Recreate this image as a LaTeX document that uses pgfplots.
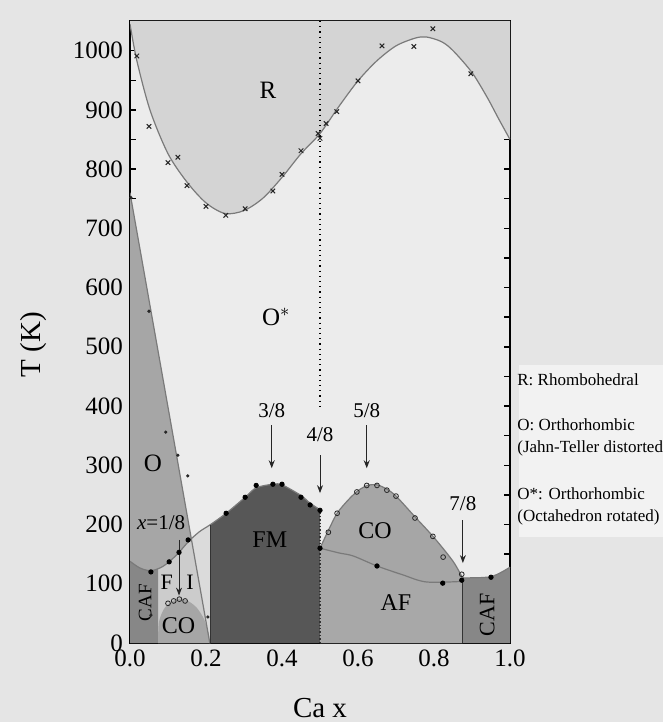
\documentclass[border=0pt]{standalone}
\usepackage{fontspec}
\setmainfont{Liberation Serif}
\usepackage{pgfplots}
\pgfplotsset{compat=1.18}
\usetikzlibrary{arrows.meta}

\definecolor{cPage}{gray}{0.90}
\definecolor{cOs}{gray}{0.925}
\definecolor{cR}{gray}{0.83}
\definecolor{cO}{gray}{0.65}
\definecolor{cFI}{gray}{0.80}
\definecolor{cI}{gray}{0.86}
\definecolor{cCAF}{gray}{0.53}
\definecolor{cCO}{gray}{0.65}
\definecolor{cFM}{gray}{0.34}
\definecolor{cAF}{gray}{0.66}
\definecolor{cLeg}{gray}{0.95}
\definecolor{cLine}{gray}{0.48}

\begin{document}
\begin{tikzpicture}
\path[use as bounding box, fill=cPage] (-65pt,-39.5pt) rectangle (266.5pt,321.5pt);
\fill[cLeg] (194.5pt,53pt) rectangle (270pt,139pt);

\begin{axis}[
  at={(0,0)}, anchor=south west,
  scale only axis, width=190pt, height=311pt,
  xmin=0, xmax=1, ymin=0, ymax=1050,
  xtick={0,0.2,...,1.0}, minor xtick={0.1,0.3,0.5,0.7,0.9},
  ytick={0,100,...,1000}, minor ytick={50,150,...,1050},
  tick align=inside, major tick length=3pt, minor tick length=3pt,
  tick style={black, line width=0.7pt},
  xticklabel style={/pgf/number format/.cd, fixed, fixed zerofill, precision=1},
  yticklabel style={/pgf/number format/1000 sep={}},
  /pgf/number format/assume math mode=true,
  tick label style={font=\fontsize{12.5}{13}\selectfont},
  xlabel={Ca x}, ylabel={T (K)},
  label style={font=\fontsize{14.5}{15}\selectfont},
  xlabel style={at={(axis description cs:0.5,-0.104)}, anchor=center},
  ylabel style={at={(axis description cs:-0.255,0.48)}, anchor=center},
  axis line style={line width=0.8pt},
  axis background/.style={fill=cOs},
]

% R region
\addplot[draw=none, fill=cR, smooth] coordinates {
(0,1045) (0.018,983) (0.053,899) (0.1,826) (0.15,778) (0.2,743) (0.25,725)
(0.3,730) (0.35,751) (0.4,786) (0.45,826) (0.5,860) (0.55,906) (0.6,949)
(0.65,983) (0.7,1008) (0.75,1021) (0.78,1023) (0.82,1015) (0.85,1000)
(0.9,963) (0.94,921) (0.97,885) (1.0,850)
} -- (axis cs:1,1050) -- (axis cs:0,1050) -- cycle;

% O region (wedge)
\addplot[draw=none, fill=cO, smooth] coordinates {
(0,138) (0.025,127) (0.053,122) (0.08,127) (0.103,137) (0.129,153) (0.161,177)
} -- (axis cs:0,760) -- cycle;

% F I region
\addplot[draw=none, fill=cFI, smooth] coordinates {
(0.074,125) (0.08,127) (0.103,137) (0.129,153) (0.155,172) (0.183,188) (0.212,200)
} -- (axis cs:0.212,0) -- (axis cs:0.074,0) -- cycle;

% lighter part right of the O line
\addplot[draw=none, fill=cI, smooth] coordinates {
(0.161,177) (0.183,188) (0.212,200)
} -- (axis cs:0.212,0) -- (axis cs:0.21,0) -- cycle;

% CAF (left)
\addplot[draw=none, fill=cCAF, smooth] coordinates {
(0,138) (0.025,127) (0.053,122) (0.074,125)
} -- (axis cs:0.074,0) -- (axis cs:0,0) -- cycle;

% CO (small dome)
\addplot[draw=none, fill=cCO, smooth] coordinates {
(0.074,0) (0.076,35) (0.09,58) (0.11,70) (0.13,75) (0.15,72) (0.175,60)
(0.195,40) (0.207,15) (0.21,0)
} -- cycle;

% FM
\addplot[draw=none, fill=cFM, smooth] coordinates {
(0.212,200) (0.253,219) (0.303,246) (0.332,262) (0.376,268) (0.4,267)
(0.45,249) (0.474,236) (0.5,225)
} -- (axis cs:0.5,0) -- (axis cs:0.212,0) -- cycle;

% CO (right dome)
\addplot[draw=none, fill=cCO, smooth] coordinates {
(0.5,160) (0.522,190) (0.545,219) (0.575,242) (0.6,257) (0.625,266) (0.65,267)
(0.675,260) (0.7,248) (0.75,213) (0.8,178) (0.85,138) (0.875,110)
} -- (axis cs:0.875,0) -- (axis cs:0.5,0) -- cycle;

% AF
\addplot[draw=none, fill=cAF, smooth] coordinates {
(0.5,160) (0.55,152) (0.587,147) (0.65,130) (0.718,115) (0.78,103) (0.875,104)
} -- (axis cs:0.875,0) -- (axis cs:0.5,0) -- cycle;

% CAF (right)
\addplot[draw=none, fill=cCAF, smooth] coordinates {
(0.875,110) (0.95,112) (1.0,128)
} -- (axis cs:1,0) -- (axis cs:0.875,0) -- cycle;

% boundary lines
\addplot[cLine, line width=0.6pt, smooth] coordinates {
(0,1045) (0.018,983) (0.053,899) (0.1,826) (0.15,778) (0.2,743) (0.25,725)
(0.3,730) (0.35,751) (0.4,786) (0.45,826) (0.5,860) (0.55,906) (0.6,949)
(0.65,983) (0.7,1008) (0.75,1021) (0.78,1023) (0.82,1015) (0.85,1000)
(0.9,963) (0.94,921) (0.97,885) (1.0,850)
};
\addplot[cLine, line width=0.6pt, smooth] coordinates {
(0,138) (0.025,127) (0.053,122) (0.08,127) (0.103,137) (0.129,153) (0.155,172)
(0.183,188) (0.212,200) (0.253,219) (0.303,246) (0.332,262) (0.376,268)
(0.4,267) (0.45,249) (0.474,236) (0.5,225)
};
\addplot[cLine, line width=0.6pt] coordinates {(0,760) (0.21,0)};
\addplot[cLine, line width=0.6pt, smooth] coordinates {
(0.5,160) (0.522,190) (0.545,219) (0.575,242) (0.6,257) (0.625,266) (0.65,267)
(0.675,260) (0.7,248) (0.75,213) (0.8,178) (0.85,138) (0.875,110)
};
\addplot[cLine, line width=0.6pt, smooth] coordinates {
(0.5,160) (0.55,152) (0.587,147) (0.65,130) (0.718,115) (0.78,103) (0.875,104)
};
\addplot[cLine, line width=0.6pt, smooth] coordinates {(0.875,110) (0.95,112) (1.0,128)};
\addplot[gray!40!black, line width=0.7pt] coordinates {(0.212,0) (0.212,200)};
\addplot[gray!40!black, line width=0.7pt, densely dotted] coordinates {(0.5,0) (0.5,225)};
\addplot[gray!40!black, line width=0.7pt] coordinates {(0.875,0) (0.875,110)};
\addplot[black, line width=0.6pt, dotted] coordinates {(0.5,1050) (0.5,395)};

% crosses (structural transition)
\addplot[only marks, mark=x, mark size=1.6pt, gray!30!black, mark options={line width=0.5pt}] coordinates {
(0.018,991) (0.05,872) (0.1,811) (0.126,820) (0.15,772) (0.2,737) (0.252,722)
(0.303,733) (0.376,763) (0.4,791) (0.45,831) (0.495,860) (0.5,852) (0.516,877)
(0.544,897) (0.6,949) (0.663,1008) (0.747,1007) (0.797,1037) (0.897,961)
};
% small dots (O - O* transition)
\addplot[only marks, mark=*, mark size=0.6pt, gray!30!black] coordinates {
(0.002,752) (0.05,560) (0.094,356) (0.126,317) (0.152,282) (0.205,44) (0.055,47)
};
% filled circles
\addplot[only marks, mark=*, mark size=1.1pt, black] coordinates {
(0.055,120) (0.103,137) (0.129,153) (0.153,174) (0.253,219) (0.303,246)
(0.332,266) (0.376,268) (0.4,268) (0.45,246) (0.474,233) (0.5,224) (0.5,160)
(0.65,130) (0.823,101) (0.873,106) (0.95,111)
};
% open circles
\addplot[only marks, mark=o, mark size=1.2pt, gray!30!black, mark options={fill=white, line width=0.4pt}] coordinates {
(0.1,67) (0.115,71) (0.13,74) (0.145,71)
(0.522,187) (0.545,219) (0.597,255) (0.623,266) (0.65,266) (0.676,258)
(0.7,248) (0.75,211) (0.797,180) (0.824,145) (0.873,116)
};

% arrows
\draw[gray!30!black, line width=0.5pt, -{Stealth[length=4pt, width=3pt]}] (axis cs:0.373,368) -- (axis cs:0.373,295);
\draw[gray!30!black, line width=0.5pt, -{Stealth[length=4pt, width=3pt]}] (axis cs:0.5,317) -- (axis cs:0.5,253);
\draw[gray!30!black, line width=0.5pt, -{Stealth[length=4pt, width=3pt]}] (axis cs:0.623,368) -- (axis cs:0.623,295);
\draw[gray!30!black, line width=0.5pt, -{Stealth[length=4pt, width=3pt]}] (axis cs:0.876,207) -- (axis cs:0.876,135);
\draw[gray!30!black, line width=0.5pt, -{Stealth[length=4pt, width=3pt]}] (axis cs:0.129,174) -- (axis cs:0.129,80);

% region labels
\node[font=\fontsize{12.5}{13}\selectfont] at (axis cs:0.363,933) {R};
\node[font=\fontsize{12.5}{13}\selectfont] at (axis cs:0.385,550) {O$^{*}$};
\node[font=\fontsize{12.5}{13}\selectfont] at (axis cs:0.06,303) {O};
\node[font=\fontsize{12}{13}\selectfont] at (axis cs:0.368,174) {FM};
\node[font=\fontsize{12}{13}\selectfont] at (axis cs:0.128,30) {CO};
\node[font=\fontsize{12}{13}\selectfont] at (axis cs:0.645,190) {CO};
\node[font=\fontsize{12}{13}\selectfont] at (axis cs:0.70,68) {AF};
\node[font=\fontsize{11}{12}\selectfont] at (axis cs:0.097,103) {F};
\node[font=\fontsize{11}{12}\selectfont] at (axis cs:0.158,103) {I};
\node[font=\fontsize{9.5}{10}\selectfont, rotate=90] at (axis cs:0.04,68) {CAF};
\node[font=\fontsize{11}{12}\selectfont, rotate=90] at (axis cs:0.94,47) {CAF};
\node[font=\fontsize{10.5}{11}\selectfont] at (axis cs:0.082,204) {\textit{x}=1/8};
\node[font=\fontsize{10.5}{11}\selectfont] at (axis cs:0.373,392) {3/8};
\node[font=\fontsize{10.5}{11}\selectfont] at (axis cs:0.5,352) {4/8};
\node[font=\fontsize{10.5}{11}\selectfont] at (axis cs:0.623,393) {5/8};
\node[font=\fontsize{10.5}{11}\selectfont] at (axis cs:0.876,236) {7/8};
\end{axis}

% legend text
\begin{scope}[font=\fontsize{8.5}{9}\selectfont]
\node[anchor=west, inner sep=0pt] at (193.5pt,131.5pt) {R: Rhombohedral};
\node[anchor=west, inner sep=0pt] at (193.5pt,109pt) {O: Orthorhombic};
\node[anchor=west, inner sep=0pt] at (193.5pt,97.5pt) {(Jahn-Teller distorted)};
\node[anchor=west, inner sep=0pt] at (193.5pt,74.5pt) {O*: Orthorhombic};
\node[anchor=west, inner sep=0pt] at (193.5pt,63pt) {(Octahedron rotated)};
\end{scope}
\end{tikzpicture}
\end{document}
